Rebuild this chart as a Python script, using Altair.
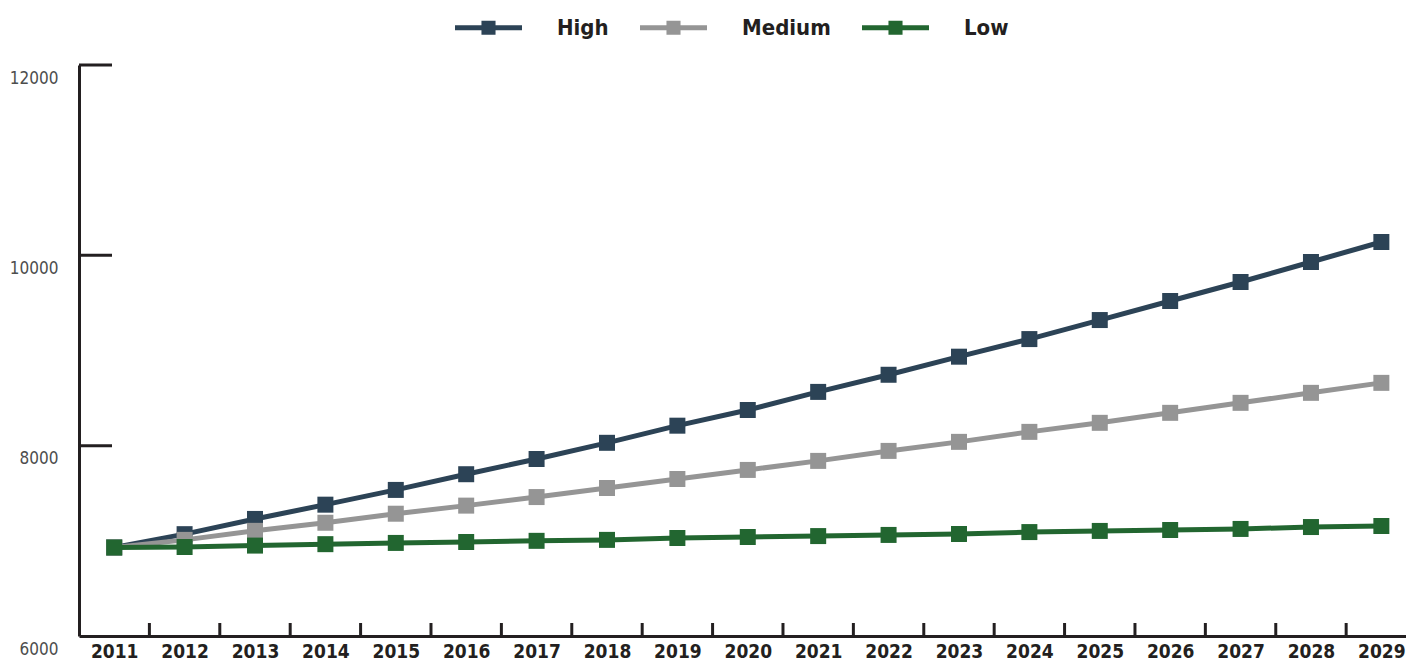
import altair as alt
import pandas as pd

years = list(range(2011, 2030))
high = [6930, 7070, 7230, 7380, 7535, 7700, 7860, 8030, 8210, 8375, 8565, 8745, 8935, 9120, 9320, 9520, 9720, 9930, 10140]
medium = [6930, 7010, 7105, 7190, 7285, 7370, 7460, 7555, 7650, 7745, 7840, 7945, 8040, 8145, 8240, 8345, 8450, 8555, 8660]
low = [6930, 6935, 6950, 6965, 6978, 6988, 7000, 7010, 7030, 7040, 7050, 7062, 7072, 7092, 7104, 7114, 7125, 7145, 7156]
series = ["High", "Medium", "Low"]
colors = ["#2c4356", "#959595", "#226630"]
y_ticks = [6000, 8000, 10000, 12000]

FONT = "DejaVu Sans Condensed, DejaVu Sans, sans-serif"
W, H = 1327, 571

rows = []
for name, vals in zip(series, [high, medium, low]):
    for yr, v in zip(years, vals):
        rows.append({"year": yr, "value": v, "series": name})
df = pd.DataFrame(rows)

xscale = alt.Scale(domain=[2010.5, 2029.35], nice=False, zero=False)
yscale = alt.Scale(domain=[6000, 12000], nice=False, zero=False)
cscale = alt.Scale(domain=series, range=colors)

x_axis = alt.Axis(title=None, ticks=False, grid=False, values=years, format="d",
                  labelAngle=0, labelFlush=False, domainWidth=3,
                  domainColor="#231f20", labelFont=FONT, labelFontSize=19,
                  labelFontWeight="bold", labelColor="#231f20", labelPadding=6,
                  labelBaseline="top")
y_axis = alt.Axis(title=None, ticks=False, grid=False, values=y_ticks, format="d",
                  domainWidth=3, domainColor="#231f20", labelFont=FONT,
                  labelFontSize=17, labelColor="#4d4d4d", labelPadding=21,
                  labelOffset=13, labelFlush=False)

legend_path = "M-1,-0.075H1V0.075H-1Z M-0.21,-0.21H0.21V0.21H-0.21Z"
legend = alt.Legend(title=None, orient="none", legendX=376, legendY=-71,
                    direction="horizontal", symbolType=legend_path, symbolSize=4489,
                    symbolStrokeWidth=0, labelFont=FONT, labelFontSize=22,
                    labelFontWeight="bold", labelColor="#231f20", labelOffset=35,
                    columnPadding=31, padding=0)

layers = []
for name, col in zip(series, colors):
    sub = df[df["series"] == name]
    base = alt.Chart(sub)
    line = base.mark_line(strokeWidth=5, color=col).encode(
        x=alt.X("year:Q", scale=xscale, axis=x_axis),
        y=alt.Y("value:Q", scale=yscale, axis=y_axis),
    )
    pts = base.mark_point(shape="square", filled=True, size=256, opacity=1).encode(
        x=alt.X("year:Q", scale=xscale, axis=x_axis),
        y=alt.Y("value:Q", scale=yscale, axis=y_axis),
        color=alt.Color("series:N", scale=cscale, legend=legend),
    )
    layers += [line, pts]

ytick_df = pd.DataFrame({"v": y_ticks[1:]})
yticks = alt.Chart(ytick_df).mark_rule(strokeWidth=3, color="#231f20").encode(
    y=alt.Y("v:Q", scale=yscale, axis=y_axis),
    x=alt.value(0), x2=alt.value(33),
)
xtick_df = pd.DataFrame({"year": years[1:]})
xticks = alt.Chart(xtick_df).transform_calculate(b="datum.year - 0.5").mark_rule(
    strokeWidth=3, color="#231f20").encode(
    x=alt.X("b:Q", scale=xscale, axis=x_axis),
    y=alt.value(H - 13), y2=alt.value(H),
)

chart = alt.layer(yticks, xticks, *layers).properties(
    width=W, height=H,
    padding={"left": 71, "top": 57, "right": 0, "bottom": 29},
    autosize=alt.AutoSizeParams(type="none"),
    background="white",
).configure_view(strokeWidth=0, stroke="transparent").configure_axis(grid=False)

chart.save("out.html", embed_options={"renderer": "svg", "actions": False})
